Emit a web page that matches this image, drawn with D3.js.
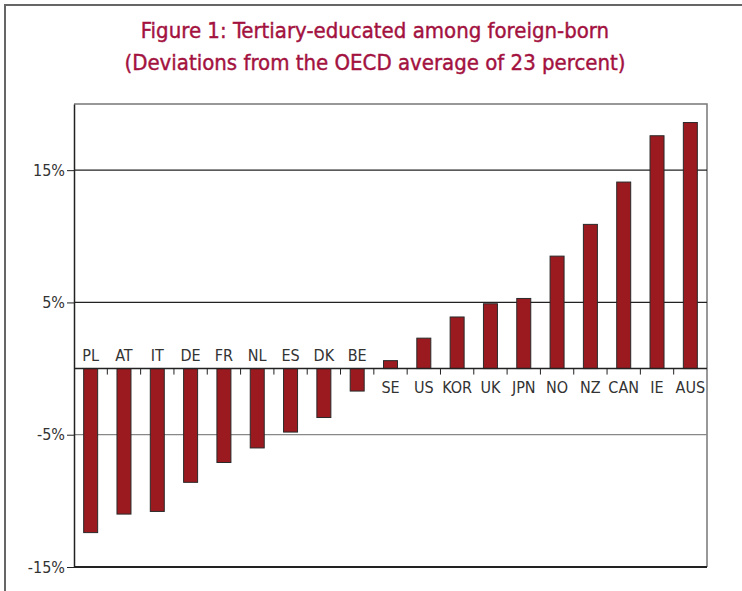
<!DOCTYPE html>
<html>
<head>
<meta charset="utf-8">
<script src="https://cdn.jsdelivr.net/npm/d3@7"></script>
<style>
  body { margin: 0; background: #fff; }
  svg { display: block; }
  .lab { font-family: "DejaVu Sans Condensed", "Liberation Sans Narrow", sans-serif; fill: #333; }
</style>
</head>
<body>
<svg id="chart"></svg>
<script>
// values (deviation from OECD average, in points)
var countries = ["PL","AT","IT","DE","FR","NL","ES","DK","BE","SE","US","KOR","UK","JPN","NO","NZ","CAN","IE","AUS"];
var deviations = [-12.4,-11.0,-10.8,-8.6,-7.1,-6.0,-4.8,-3.7,-1.7,0.6,2.3,3.9,4.9,5.3,8.5,10.9,14.1,17.6,18.6];
var yTicks = [15, 5, -5, -15];
var titleLines = ["Figure 1: Tertiary-educated among foreign-born", "(Deviations from the OECD average of 23 percent)"];

var W = 742, H = 591;
var margin = {top: 104, right: 35, bottom: 24, left: 74};
var width = W - margin.left - margin.right;
var height = H - margin.top - margin.bottom;

var svg = d3.select("#chart").attr("width", W).attr("height", H);

// outer frame
svg.append("path")
  .attr("d", "M5,591 V5 H742")
  .style("fill", "none").style("stroke", "#666").style("stroke-width", 2);

svg.selectAll(".title").data(titleLines).enter().append("text")
  .attr("class", "lab")
  .attr("x", 375).attr("y", function(d, i) { return 38 + i * 32; })
  .attr("text-anchor", "middle")
  .style("fill", "#a3123f").style("font-size", "22px")
  .style("stroke", "#a3123f").style("stroke-width", 0.4)
  .text(function(d) { return d; });

var x = d3.scaleBand().domain(countries).range([0, width]).paddingInner(0.58).paddingOuter(0.29);
var y = d3.scaleLinear().domain([-15, 20]).range([height, 0]);

var g = svg.append("g").attr("transform", "translate(" + margin.left + "," + margin.top + ")");

// plot frame top/right
g.append("path")
  .attr("d", "M0,0 H" + width + " V" + height)
  .style("fill", "none").style("stroke", "#777").style("stroke-width", 1.5);

// gridlines
g.selectAll(".grid").data(yTicks).enter().append("line")
  .attr("x1", 0).attr("x2", width)
  .attr("y1", function(d) { return y(d); }).attr("y2", function(d) { return y(d); })
  .style("stroke", function(d) { return d === -5 ? "#888" : "#222"; })
  .style("stroke-width", function(d) { return d === -15 ? 1.8 : 1.2; });

// y axis
var yAxis = d3.axisLeft(y).tickValues(yTicks).tickSize(7).tickSizeOuter(0).tickPadding(2)
  .tickFormat(function(d) { return d + "%"; });
var ya = g.append("g").call(yAxis);
ya.select(".domain").style("stroke", "#222").style("stroke-width", 1.5);
ya.selectAll(".tick line").style("stroke", "#222");
ya.selectAll("text").attr("class", "lab").style("font-size", "16px").style("fill", "#333");

// bars
g.selectAll(".bar").data(countries).enter().append("rect")
  .attr("x", function(d) { return x(d); })
  .attr("width", x.bandwidth())
  .attr("y", function(d, i) { return y(Math.max(0, deviations[i])); })
  .attr("height", function(d, i) { return Math.abs(y(deviations[i]) - y(0)); })
  .style("fill", "#9a1a20").style("stroke", "#2a2a2a").style("stroke-width", 1);

// zero axis with ticks between categories
var zero = g.append("g").attr("transform", "translate(0," + y(0) + ")");
zero.append("line").attr("x1", 0).attr("x2", width)
  .style("stroke", "#222").style("stroke-width", 1.5);
zero.selectAll(".zt").data(d3.range(1, countries.length)).enter().append("line")
  .attr("x1", function(i) { return i * x.step(); }).attr("x2", function(i) { return i * x.step(); })
  .attr("y1", 0).attr("y2", 6)
  .style("stroke", "#222");

// category labels: above the axis for negative bars, below for positive
zero.selectAll(".cl").data(countries).enter().append("text")
  .attr("class", "lab")
  .attr("x", function(d) { return x(d) + x.bandwidth() / 2; })
  .attr("y", function(d, i) { return deviations[i] < 0 ? -8 : 24; })
  .attr("text-anchor", "middle")
  .style("font-size", "16px")
  .text(function(d) { return d; });
</script>
</body>
</html>
